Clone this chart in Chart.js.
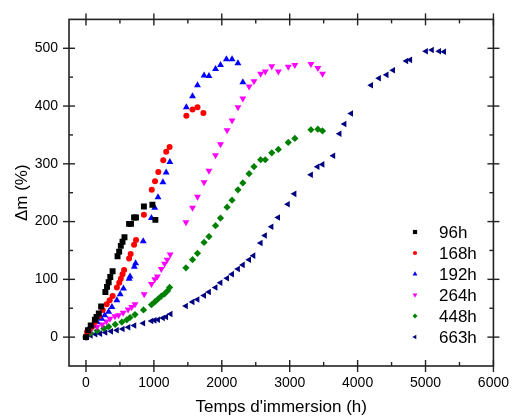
<!DOCTYPE html>
<html>
<head>
<meta charset="utf-8">
<script src="https://cdn.jsdelivr.net/npm/chart.js@4/dist/chart.umd.min.js"></script>
<style>
  body { margin: 0; background: #fff; }
  #wrap { width: 518px; height: 418px; position: relative; }
</style>
</head>
<body>
<div id="wrap"><canvas id="massChart"></canvas></div>
<script>
// immersion time (h) and mass gain (%) per series
const t96 = [0, 30, 70, 131, 155, 189, 223, 286, 310, 334, 358, 392, 465, 489, 513, 538, 567, 635, 663, 708, 736, 853, 978, 1022];
const m96 = [0, 12, 20, 30, 35, 41, 53, 78, 87, 95, 104, 114, 140, 148, 158, 165, 173, 196, 196, 207, 207, 226, 229, 203];

const t168 = [0, 15, 44, 90, 131, 189, 247, 305, 349, 392, 455, 490, 513, 538, 562, 635, 658, 708, 737, 853, 969, 1017, 1065, 1138, 1181, 1231, 1478, 1569, 1642, 1729];
const m168 = [0, 9, 12, 18, 26, 36, 47, 57, 64, 71, 86, 94, 101, 109, 116, 136, 144, 160, 168, 212, 255, 270, 286, 306, 321, 329, 383, 394, 398, 388];

const t192 = [0, 44, 100, 164, 230, 276, 334, 382, 455, 504, 552, 635, 649, 712, 731, 843, 964, 1013, 1061, 1133, 1181, 1235, 1478, 1569, 1642, 1739, 1811, 1908, 1981, 2068, 2151, 2238, 2310];
const m192 = [0, 15, 20, 26, 32, 38, 44, 52, 64, 74, 84, 101, 105, 122, 128, 166, 206, 224, 242, 268, 285, 303, 398, 417, 436, 453, 452, 464, 471, 481, 481, 474, 441];

const t264 = [0, 68, 164, 237, 300, 353, 426, 480, 547, 620, 673, 722, 857, 964, 1013, 1051, 1109, 1158, 1196, 1240, 1472, 1569, 1642, 1739, 1811, 1908, 1981, 2078, 2151, 2238, 2310, 2402, 2474, 2572, 2640, 2736, 2833, 2979, 3076, 3313, 3415, 3483];
const m264 = [0, 12, 18, 22, 27, 32, 36, 38, 42, 48, 52, 57, 74, 92, 100, 105, 118, 127, 134, 143, 199, 224, 243, 268, 288, 315, 334, 358, 375, 398, 413, 434, 443, 456, 460, 469, 460, 468, 471, 473, 466, 456];

const t448 = [0, 68, 164, 262, 334, 431, 528, 601, 649, 722, 847, 964, 1013, 1061, 1110, 1158, 1200, 1231, 1472, 1569, 1642, 1739, 1811, 1908, 1981, 2078, 2151, 2238, 2310, 2402, 2474, 2572, 2640, 2736, 2833, 2979, 3076, 3313, 3415, 3483];
const m448 = [0, 7, 11, 15, 18, 22, 26, 30, 34, 39, 47, 56, 61, 66, 71, 75, 80, 86, 120, 134, 145, 164, 174, 193, 206, 225, 237, 255, 267, 283, 295, 307, 307, 319, 325, 337, 344, 359, 360, 357];

const t663 = [0, 70, 140, 210, 286, 370, 455, 540, 625, 712, 843, 964, 1010, 1061, 1133, 1181, 1245, 1472, 1569, 1642, 1739, 1811, 1908, 1981, 2078, 2151, 2238, 2310, 2402, 2466, 2572, 2635, 2732, 2829, 2973, 3070, 3313, 3410, 3483, 3642, 3734, 3807, 3904, 4199, 4315, 4427, 4523, 4717, 4775, 5007, 5094, 5200, 5273];
const m663 = [0, 3, 5, 6, 8, 10, 12, 14, 17, 20, 24, 28, 29, 30, 33, 35, 40, 54, 61, 65, 72, 78, 86, 94, 102, 109, 118, 125, 134, 141, 163, 176, 191, 207, 230, 248, 281, 295, 299, 314, 352, 369, 387, 436, 448, 454, 462, 478, 480, 495, 497, 495, 494];

const seriesLabels = ['96h', '168h', '192h', '264h', '448h', '663h'];

const xTicks = [0, 1000, 2000, 3000, 4000, 5000, 6000];
const xMinor = [500, 1500, 2500, 3500, 4500, 5500];
const yTicks = [0, 100, 200, 300, 400, 500];
const yMinor = [50, 150, 250, 350, 450];

function pts(xs, ys) {
    return xs.map((v, i) => ({ x: v, y: ys[i] }));
}

const styles = [
    { color: '#000000', pointStyle: 'rect', radius: 4.2, rotation: 0 },
    { color: '#ff0000', pointStyle: 'circle', radius: 3, rotation: 0 },
    { color: '#0000ff', pointStyle: 'triangle', radius: 4, rotation: 0 },
    { color: '#ff00ff', pointStyle: 'triangle', radius: 4, rotation: 180 },
    { color: '#008000', pointStyle: 'rectRot', radius: 3.6, rotation: 0 },
    { color: '#000080', pointStyle: 'triangle', radius: 3.8, rotation: -90 }
];
const seriesData = [pts(t96, m96), pts(t168, m168), pts(t192, m192), pts(t264, m264), pts(t448, m448), pts(t663, m663)];

// frame with crossing major ticks and inner minor ticks on all four sides
const framePlugin = {
    id: 'frame',
    afterDraw(chart) {
        const { ctx, chartArea: a, scales: { x, y } } = chart;
        const line = (x1, y1, x2, y2) => { ctx.beginPath(); ctx.moveTo(x1, y1); ctx.lineTo(x2, y2); ctx.stroke(); };
        ctx.save();
        ctx.strokeStyle = '#222';
        ctx.lineWidth = 1.6;
        ctx.strokeRect(a.left, a.top, a.right - a.left, a.bottom - a.top);
        ctx.lineWidth = 1.4;
        xTicks.forEach(v => {
            const p = x.getPixelForValue(v);
            line(p, a.bottom - 6, p, a.bottom + 6);
            line(p, a.top - 6, p, a.top + 6);
        });
        xMinor.forEach(v => {
            const p = x.getPixelForValue(v);
            line(p, a.bottom, p, a.bottom - 4);
            line(p, a.top, p, a.top + 4);
        });
        yTicks.forEach(v => {
            const p = y.getPixelForValue(v);
            line(a.left - 6, p, a.left + 6, p);
            line(a.right - 6, p, a.right + 6, p);
        });
        yMinor.forEach(v => {
            const p = y.getPixelForValue(v);
            line(a.left, p, a.left + 4, p);
            line(a.right, p, a.right - 4, p);
        });
        ctx.restore();
    }
};

// legend inside the plot, bottom right
const legendPlugin = {
    id: 'insideLegend',
    afterDraw(chart) {
        const { ctx } = chart;
        ctx.save();
        ctx.font = '17px "Liberation Sans", Arial, sans-serif';
        ctx.textBaseline = 'middle';
        seriesLabels.forEach((lab, i) => {
            const yy = 232 + i * 21;
            const s = styles[i];
            ctx.fillStyle = s.color;
            ctx.strokeStyle = s.color;
            Chart.helpers.drawPoint(ctx, { pointStyle: s.pointStyle, rotation: s.rotation, radius: s.radius * 0.7, borderWidth: 0 }, 415, yy);
            ctx.fillStyle = '#000';
            ctx.fillText(lab, 439, yy + 1);
        });
        ctx.restore();
    }
};

Chart.defaults.font.family = '"Liberation Sans", Arial, sans-serif';
Chart.defaults.color = '#000';

const ctx = document.getElementById('massChart').getContext('2d');
new Chart(ctx, {
    type: 'scatter',
    data: {
        datasets: seriesLabels.map((lab, i) => ({
            label: lab,
            data: seriesData[i],
            backgroundColor: styles[i].color,
            borderColor: styles[i].color,
            borderWidth: 0,
            pointStyle: styles[i].pointStyle,
            pointRadius: styles[i].radius,
            pointRotation: styles[i].rotation,
            pointHoverRadius: styles[i].radius
        }))
    },
    options: {
        responsive: true,
        maintainAspectRatio: false,
        animation: false,
        layout: { padding: { left: 0, top: 18, right: 19, bottom: 0 } },
        plugins: {
            legend: { display: false },
            tooltip: { enabled: false }
        },
        scales: {
            x: {
                type: 'linear',
                min: -250,
                max: 6000,
                afterBuildTicks: s => { s.ticks = xTicks.map(v => ({ value: v })); },
                afterFit: s => { s.height = 52; },
                grid: { display: false, drawTicks: false },
                border: { display: false },
                ticks: { padding: 9, font: { size: 14 }, maxRotation: 0, callback: v => String(v) },
                title: {
                    display: true,
                    text: "Temps d'immersion (h)",
                    font: { size: 17 },
                    padding: { top: 0, bottom: 0 }
                }
            },
            y: {
                type: 'linear',
                min: -50,
                max: 550,
                afterBuildTicks: s => { s.ticks = yTicks.map(v => ({ value: v })); },
                afterFit: s => { s.width = 69; },
                grid: { display: false, drawTicks: false },
                border: { display: false },
                ticks: { padding: 11, font: { size: 14 }, callback: v => String(v) },
                title: {
                    display: true,
                    text: '\u0394m (%)',
                    font: { size: 17 },
                    padding: { top: 12, bottom: 0 }
                }
            }
        }
    },
    plugins: [framePlugin, legendPlugin]
});
</script>
</body>
</html>
